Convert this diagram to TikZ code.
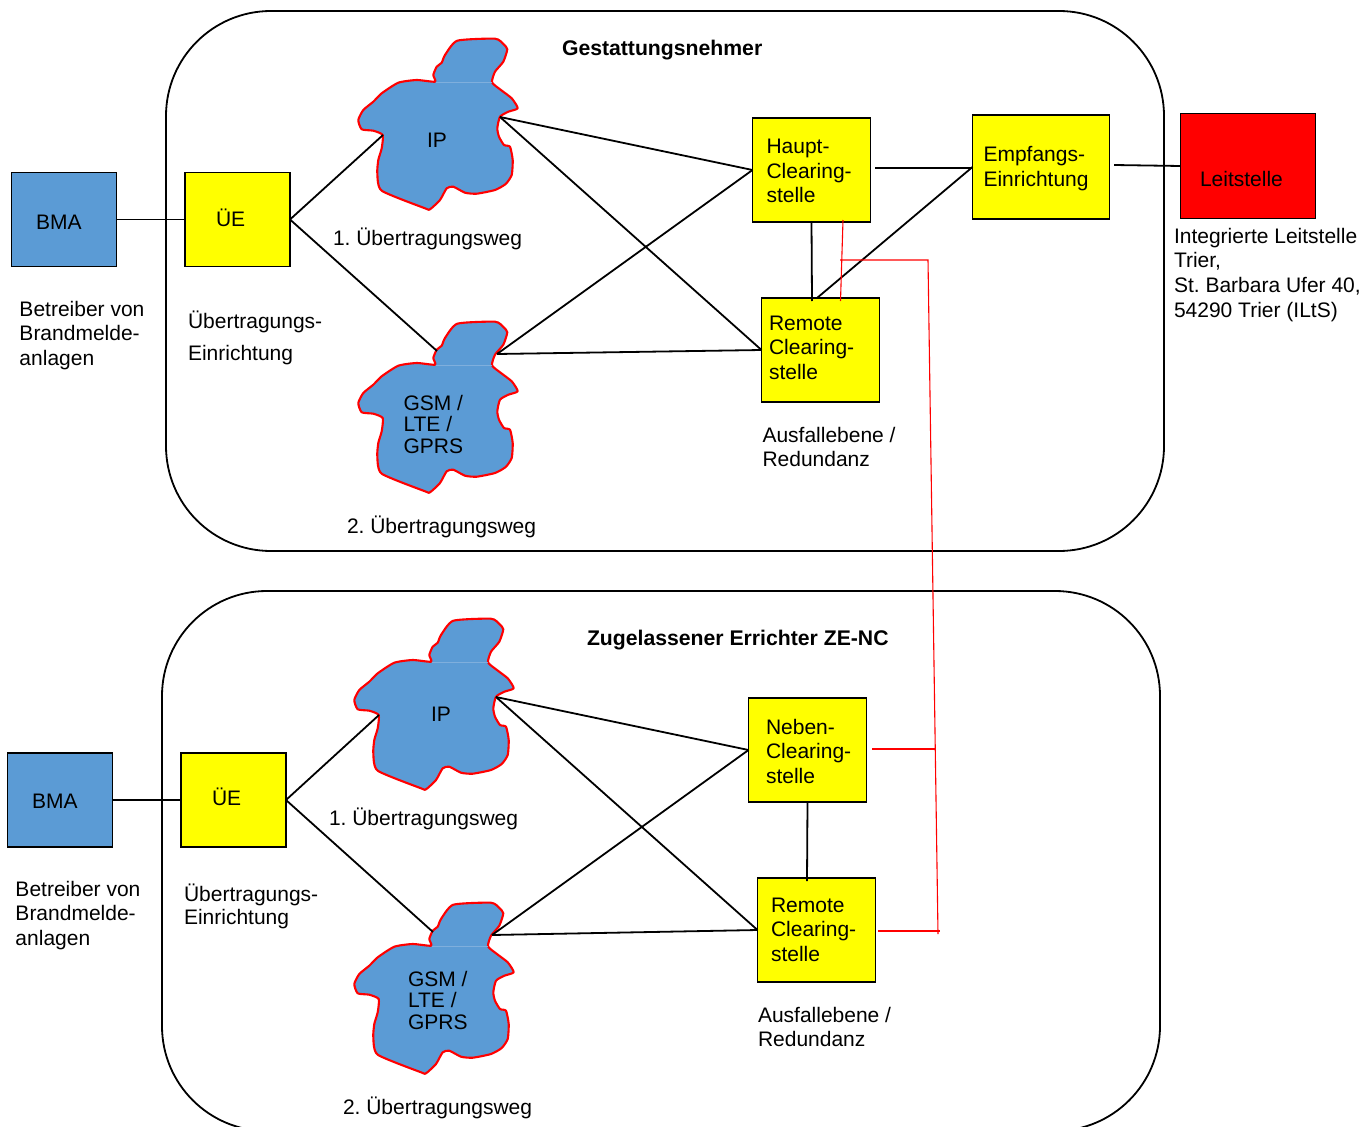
\documentclass[tikz,border=0pt]{standalone}
\usepackage{fontspec}
\setmainfont{Liberation Sans}
\frenchspacing
\definecolor{cloudblue}{HTML}{5B9BD5}
\definecolor{seam}{HTML}{7FAFDD}
\definecolor{boxyellow}{RGB}{255,255,0}
\definecolor{boxred}{RGB}{255,0,0}
\tikzset{
  line/.style={draw=black,line width=1.8pt},
  redline/.style={draw=boxred,line width=1.1pt},
  boxbase/.style={draw=black,line width=1.8pt,inner sep=0pt,outer sep=0pt},
  bluebox/.style={boxbase,fill=cloudblue,minimum width=105pt,minimum height=94pt},
  yellowbox/.style={boxbase,fill=boxyellow,minimum width=118pt,minimum height=104pt},
  frame/.style={draw=black,line width=1.8pt,rounded corners=105pt},
  lbl/.style={anchor=base west,inner sep=0pt,outer sep=0pt,text=black,font=\fontsize{21}{24.7}\selectfont},
  tight/.style={lbl,font=\fontsize{21}{21.6}\selectfont},
  head/.style={lbl,font=\fontsize{21.2}{24}\selectfont\bfseries},
  cloudshape/.style={draw=boxred,fill=cloudblue,line width=2.1pt,line join=round}
}
\newcommand{\cloudat}[3]{%
  \begin{scope}[shift={(#1,#2)}]
    \draw[cloudshape] plot[smooth cycle,tension=.35] coordinates{
      (95,61.7)(93.3,55)(96.7,46.7)(101.7,42.7)(105,35)(117.3,20.7)(155,18.7)(163.3,24)(167.3,29.3)
      (163.3,41.7)(155,51.7)(152,62.3)(160,69.3)(171.7,78.3)(177.7,88.3)(168.3,91.7)(160,96.7)
      (157.3,108.3)(159,116.7)(164,125)(170,126.7)(172.7,140)(171.7,155)(165.7,164)(155,170)
      (136.7,173.7)(125,172.7)(113.3,166.7)(106.7,168.3)(100,180)(90,189.3)(85,188.3)(41.7,170.7)
      (37.3,153.3)(38.3,140)(41.7,128.3)(42.7,115)(33.3,110.7)(21.7,109.3)(18.3,100)(23.3,90)
      (33.3,81.7)(41.7,73.3)(58.3,62.7)(76.7,60)};
    \draw[seam,line width=.6pt] (96,62.3) -- (152,62.3);
    \node[tight] (#3) at (0,0) {};
  \end{scope}}
\begin{document}
\begin{tikzpicture}[x=1pt,y=-1pt]
\clip (0,0) rectangle (1364,1126);
\fill[white] (0,0) rectangle (1364,1126);

% containers
\draw[frame] (166,11) rectangle (1164,551);
\draw[frame] (162,591) rectangle (1160,1131);

% clouds
\cloudat{340}{20}{cloudA}
\cloudat{340}{303}{cloudB}
\cloudat{336}{600}{cloudC}
\cloudat{336}{884}{cloudD}

% boxes
\node[bluebox] (bmaA) at (64,219.5) {};
\node[yellowbox,minimum width=105pt,minimum height=94pt] (ueA) at (237.5,219.5) {};
\node[yellowbox] (haupt) at (811.5,170) {};
\node[yellowbox] (remoteA) at (820.5,350) {};
\node[yellowbox,minimum width=137pt] (empf) at (1041,167) {};
\node[boxbase,fill=boxred,minimum width=135pt,minimum height=105pt] (leit) at (1248,166) {};
\node[bluebox] (bmaB) at (60,800) {};
\node[yellowbox,minimum width=105pt,minimum height=94pt] (ueB) at (233.5,800) {};
\node[yellowbox] (neben) at (807.5,750) {};
\node[yellowbox] (remoteB) at (816.5,930) {};

% notch coordinates of the clouds
\coordinate (ipAw) at (383,135);
\coordinate (ipAe) at (500,117);
\coordinate (gsmAw) at (437,351);
\coordinate (gsmAe) at (497,354);
\coordinate (ipBw) at (379,715);
\coordinate (ipBe) at (496,697);
\coordinate (gsmBw) at (433,932);
\coordinate (gsmBe) at (492,935);
\coordinate (remoteAtop) at (817,298);
\coordinate (leitIn) at (1114,165);
\coordinate (hauptOut) at (875,168);
\coordinate (hauptDown) at (812,301);
\coordinate (nebenDown) at (807,881);

% black connectors, upper group
\draw[line] (bmaA.east) -- (ueA.west);
\draw[line] (ueA.east) -- (ipAw);
\draw[line] (ueA.east) -- (gsmAw);
\draw[line] (ipAe) -- (haupt.west);
\draw[line] (ipAe) -- (remoteA.west);
\draw[line] (gsmAe) -- (haupt.west);
\draw[line] (gsmAe) -- (remoteA.west);
\draw[line] (hauptOut) -- (hauptOut -| empf.west);
\draw[line] (haupt.south) -- (hauptDown);
\draw[line] (remoteAtop) -- (empf.west);
\draw[line] (leitIn) -- (leit.west);

% black connectors, lower group
\draw[line] (bmaB.east) -- (ueB.west);
\draw[line] (ueB.east) -- (ipBw);
\draw[line] (ueB.east) -- (gsmBw);
\draw[line] (ipBe) -- (neben.west);
\draw[line] (ipBe) -- (remoteB.west);
\draw[line] (gsmBe) -- (neben.west);
\draw[line] (gsmBe) -- (remoteB.west);
\draw[line] (neben.south) -- (nebenDown);

% red connectors
\coordinate (rA) at (843,220);
\coordinate (rB) at (840.5,301);
\coordinate (rC) at (840,260);
\coordinate (rD) at (928,260);
\coordinate (rE) at (938,934);
\coordinate (rF) at (872,749);
\coordinate (rG) at (935,749);
\coordinate (rH) at (878,931);
\coordinate (rI) at (940,931);
\draw[redline] (rA) -- (rB);
\draw[redline] (rC) -- (rD) -- (rE);
\draw[redline,line width=1.5pt] (rF) -- (rG);
\draw[redline,line width=1.5pt] (rH) -- (rI);

% labels, upper group
\node[head] (tA) at (562,56) {Gestattungsnehmer};
\node[lbl] (t1) at (36,229.5) {BMA};
\node[lbl] (t2) at (216,226) {ÜE};
\node[lbl] (t3) at (427,148) {IP};
\node[lbl] (t4) at (19.5,316) {\vtop{\hbox{Betreiber von}\hbox{Brandmelde-}\hbox{anlagen}}};
\node[lbl,font=\fontsize{21}{32}\selectfont] (t5) at (188,328) {\vtop{\hbox{Übertragungs-}\hbox{Einrichtung}}};
\node[lbl] (t6) at (333,245) {1. Übertragungsweg};
\node[lbl] (t7) at (347,533) {2. Übertragungsweg};
\node[tight] (t8) at (403.5,410) {\vtop{\hbox{GSM /}\hbox{LTE /}\hbox{GPRS}}};
\node[lbl] (t9) at (766.5,153.5) {\vtop{\hbox{Haupt-}\hbox{Clearing-}\hbox{stelle}}};
\node[lbl] (t10) at (769,330) {\vtop{\hbox{Remote}\hbox{Clearing-}\hbox{stelle}}};
\node[lbl] (t11) at (762.5,442) {\vtop{\hbox{Ausfallebene /}\hbox{Redundanz}}};
\node[lbl] (t12) at (983.5,162) {\vtop{\hbox{Empfangs-}\hbox{Einrichtung}}};
\node[lbl] (t13) at (1200,186) {Leitstelle};
\node[lbl] (t14) at (1174,243) {\vtop{\hbox{Integrierte Leitstelle}\hbox{Trier,}\hbox{St. Barbara Ufer 40,}\hbox{54290 Trier (ILtS)}}};

% labels, lower group
\node[head] (tB) at (587,645) {Zugelassener Errichter ZE-NC};
\node[lbl] (u1) at (32,808) {BMA};
\node[lbl] (u2) at (212,805) {ÜE};
\node[lbl] (u3) at (431,721) {IP};
\node[lbl] (u4) at (15.5,896) {\vtop{\hbox{Betreiber von}\hbox{Brandmelde-}\hbox{anlagen}}};
\node[lbl,font=\fontsize{21}{23}\selectfont] (u5) at (184,901) {\vtop{\hbox{Übertragungs-}\hbox{Einrichtung}}};
\node[lbl] (u6) at (329,825) {1. Übertragungsweg};
\node[lbl] (u7) at (343,1114) {2. Übertragungsweg};
\node[tight] (u8) at (408,986) {\vtop{\hbox{GSM /}\hbox{LTE /}\hbox{GPRS}}};
\node[lbl] (u9) at (766,734) {\vtop{\hbox{Neben-}\hbox{Clearing-}\hbox{stelle}}};
\node[lbl] (u10) at (771,912) {\vtop{\hbox{Remote}\hbox{Clearing-}\hbox{stelle}}};
\node[lbl] (u11) at (758,1022) {\vtop{\hbox{Ausfallebene /}\hbox{Redundanz}}};
\end{tikzpicture}
\end{document}
